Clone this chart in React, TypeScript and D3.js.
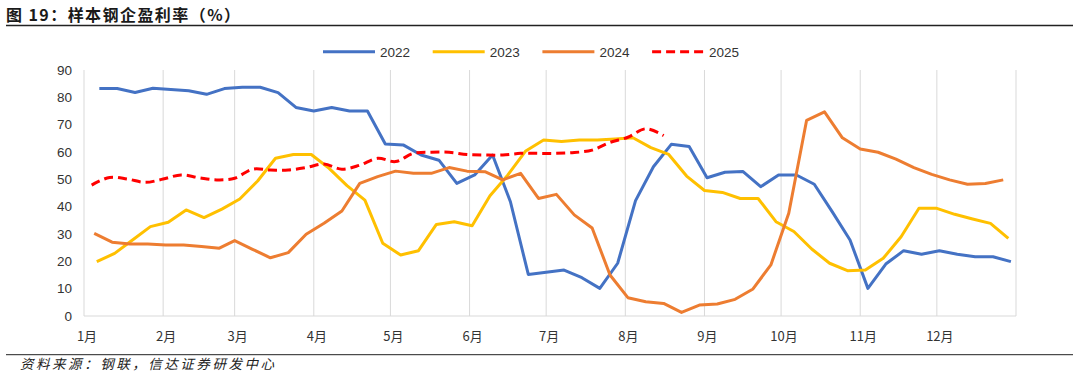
import React from "react";
import * as d3 from "d3";

const title = "图 19：样本钢企盈利率（%）";
const source = "资料来源：钢联，信达证券研发中心";
const monthLabels = ["1月", "2月", "3月", "4月", "5月", "6月", "7月", "8月", "9月", "10月", "11月", "12月"];
const yTicks = [0, 10, 20, 30, 40, 50, 60, 70, 80, 90];
const seriesNames = ["2022", "2023", "2024", "2025"];
const seriesColors = ["#4472C4", "#FFC000", "#ED7D31", "#FF0000"];
// first weekly observation (year, monthIndex, day)
const startDates: [number, number, number][] = [
  [2022, 0, 7],
  [2023, 0, 6],
  [2024, 0, 5],
  [2025, 0, 4],
];

const v2022 = [83.2, 83.2, 81.8, 83.3, 82.9, 82.4, 81.1, 83.2, 83.7, 83.7, 81.7, 76.3, 75.0, 76.3, 75.0, 75.0, 62.9, 62.6, 58.9, 57.0, 48.5, 51.6, 58.9, 41.8, 15.2, 16.0, 16.8, 14.0, 10.1, 19.3, 42.2, 54.6, 62.8, 62.0, 50.6, 52.6, 52.9, 47.3, 51.6, 51.6, 48.2, 38.2, 27.8, 10.1, 19.0, 23.9, 22.6, 23.9, 22.6, 21.7, 21.7, 19.9];
const v2023 = [19.9, 22.9, 27.8, 32.7, 34.3, 38.8, 36.0, 39.1, 42.8, 49.4, 57.7, 59.1, 59.1, 54.0, 47.7, 42.4, 26.6, 22.3, 23.9, 33.5, 34.5, 33.0, 44.0, 51.6, 60.4, 64.4, 63.8, 64.4, 64.4, 64.8, 65.2, 61.6, 59.1, 51.2, 45.9, 45.2, 43.0, 43.0, 34.5, 30.9, 24.5, 19.3, 16.6, 16.8, 21.1, 29.0, 39.4, 39.4, 37.2, 35.5, 33.9, 28.4];
const v2024 = [30.2, 27.0, 26.3, 26.3, 26.0, 26.0, 25.4, 24.8, 27.6, 24.4, 21.3, 23.2, 29.9, 33.9, 38.4, 48.5, 51.0, 53.0, 52.2, 52.2, 54.3, 53.0, 52.8, 49.8, 52.2, 43.0, 44.5, 37.0, 32.2, 15.0, 6.7, 5.2, 4.6, 1.3, 4.0, 4.4, 6.1, 9.9, 18.7, 37.6, 71.6, 74.7, 65.2, 61.1, 59.9, 57.4, 54.3, 51.8, 49.8, 48.2, 48.5, 49.8];
const v2025 = [47.9, 50.7, 50.1, 48.9, 50.1, 51.6, 50.6, 49.8, 50.4, 53.7, 53.4, 53.4, 54.3, 55.6, 53.7, 55.2, 57.7, 56.5, 59.5, 59.9, 59.9, 59.1, 58.9, 58.9, 59.5, 59.5, 59.5, 59.8, 60.7, 63.5, 65.4, 68.5, 66.0];
const seriesValues = [v2022, v2023, v2024, v2025];

const W = 1079;
const H = 379;
const plot = { left: 84, right: 1016, top: 70, bottom: 316 };
const BASE_YEAR = 2025;

function toPoints(start: [number, number, number], values: number[]): [Date, number][] {
  const s = new Date(start[0], start[1], start[2]);
  return values.map((v, i) => {
    const d = d3.timeDay.offset(s, 7 * i);
    return [new Date(BASE_YEAR, d.getMonth(), d.getDate()), v];
  });
}

export default function App() {
  const x = d3
    .scaleTime()
    .domain([new Date(BASE_YEAR, 0, 1), new Date(BASE_YEAR + 1, 0, 1)])
    .range([plot.left, plot.right]);
  const y = d3.scaleLinear().domain([0, 90]).range([plot.bottom, plot.top]);
  const monthTicks = x.ticks(d3.timeMonth.every(1) as any);

  const straight = d3
    .line<[Date, number]>()
    .x((d) => x(d[0]))
    .y((d) => y(d[1]));
  const smooth = d3
    .line<[Date, number]>()
    .x((d) => x(d[0]))
    .y((d) => y(d[1]))
    .curve(d3.curveCatmullRom);

  const font = "'Liberation Sans', Arial, sans-serif";
  const cjk = "'Noto Sans CJK SC', sans-serif";
  const legendX0 = 323;
  const legendStep = 109.7;

  return (
    <svg
      width={W}
      height={H}
      style={{ position: "absolute", left: 0, top: 0, background: "#fff" }}
    >
      <rect x={0} y={0} width={W} height={H} fill="#fff" />
      {/* title */}
      <text x={6} y={21} fontFamily={cjk} fontWeight={700} fontSize={16} fill="#1a1a1a" textLength={234} lengthAdjust="spacing">
        {title}
      </text>
      <line x1={6} x2={1073} y1={25.5} y2={25.5} stroke="#222" strokeWidth={1.3} />

      {/* legend */}
      {seriesNames.map((n, i) => (
        <g key={n} transform={`translate(${legendX0 + i * legendStep},51.7)`}>
          <line
            x1={0}
            x2={52}
            y1={0}
            y2={0}
            stroke={seriesColors[i]}
            strokeWidth={3}
            strokeDasharray={i === 3 ? "9,5" : undefined}
          />
          <text x={57} y={5} fontFamily={font} fontSize={13.5} fill="#333">
            {n}
          </text>
        </g>
      ))}

      {/* vertical gridlines */}
      {monthTicks.map((t, i) => (
        <line key={i} x1={x(t)} x2={x(t)} y1={plot.top} y2={plot.bottom} stroke="#d9d9d9" strokeWidth={1} />
      ))}
      <line x1={plot.left} x2={plot.right} y1={plot.bottom} y2={plot.bottom} stroke="#d9d9d9" strokeWidth={1} />

      {/* y labels */}
      {yTicks.map((t) => (
        <text key={t} x={72} y={y(t) + 4.7} textAnchor="end" fontFamily={font} fontSize={13.5} fill="#333">
          {t}
        </text>
      ))}
      {/* x labels */}
      {monthTicks.slice(0, 12).map((t, i) => (
        <text key={i} x={x(t) + 3} y={341} textAnchor="middle" fontFamily={cjk} fontSize={13} fill="#333">
          {monthLabels[i]}
        </text>
      ))}

      {/* series */}
      {seriesValues.map((vals, i) => (
        <path
          key={i}
          d={(i === 3 ? smooth : straight)(toPoints(startDates[i], vals)) || ""}
          fill="none"
          stroke={seriesColors[i]}
          strokeWidth={3}
          strokeLinejoin="round"
          strokeDasharray={i === 3 ? "9,5" : undefined}
        />
      ))}

      {/* footer */}
      <line x1={6} x2={1073} y1={354.7} y2={354.7} stroke="#222" strokeWidth={1} />
      <text x={20} y={369} fontFamily={cjk} fontStyle="italic" fontSize={13.5} fill="#222" textLength={254} lengthAdjust="spacing">
        {source}
      </text>
    </svg>
  );
}
